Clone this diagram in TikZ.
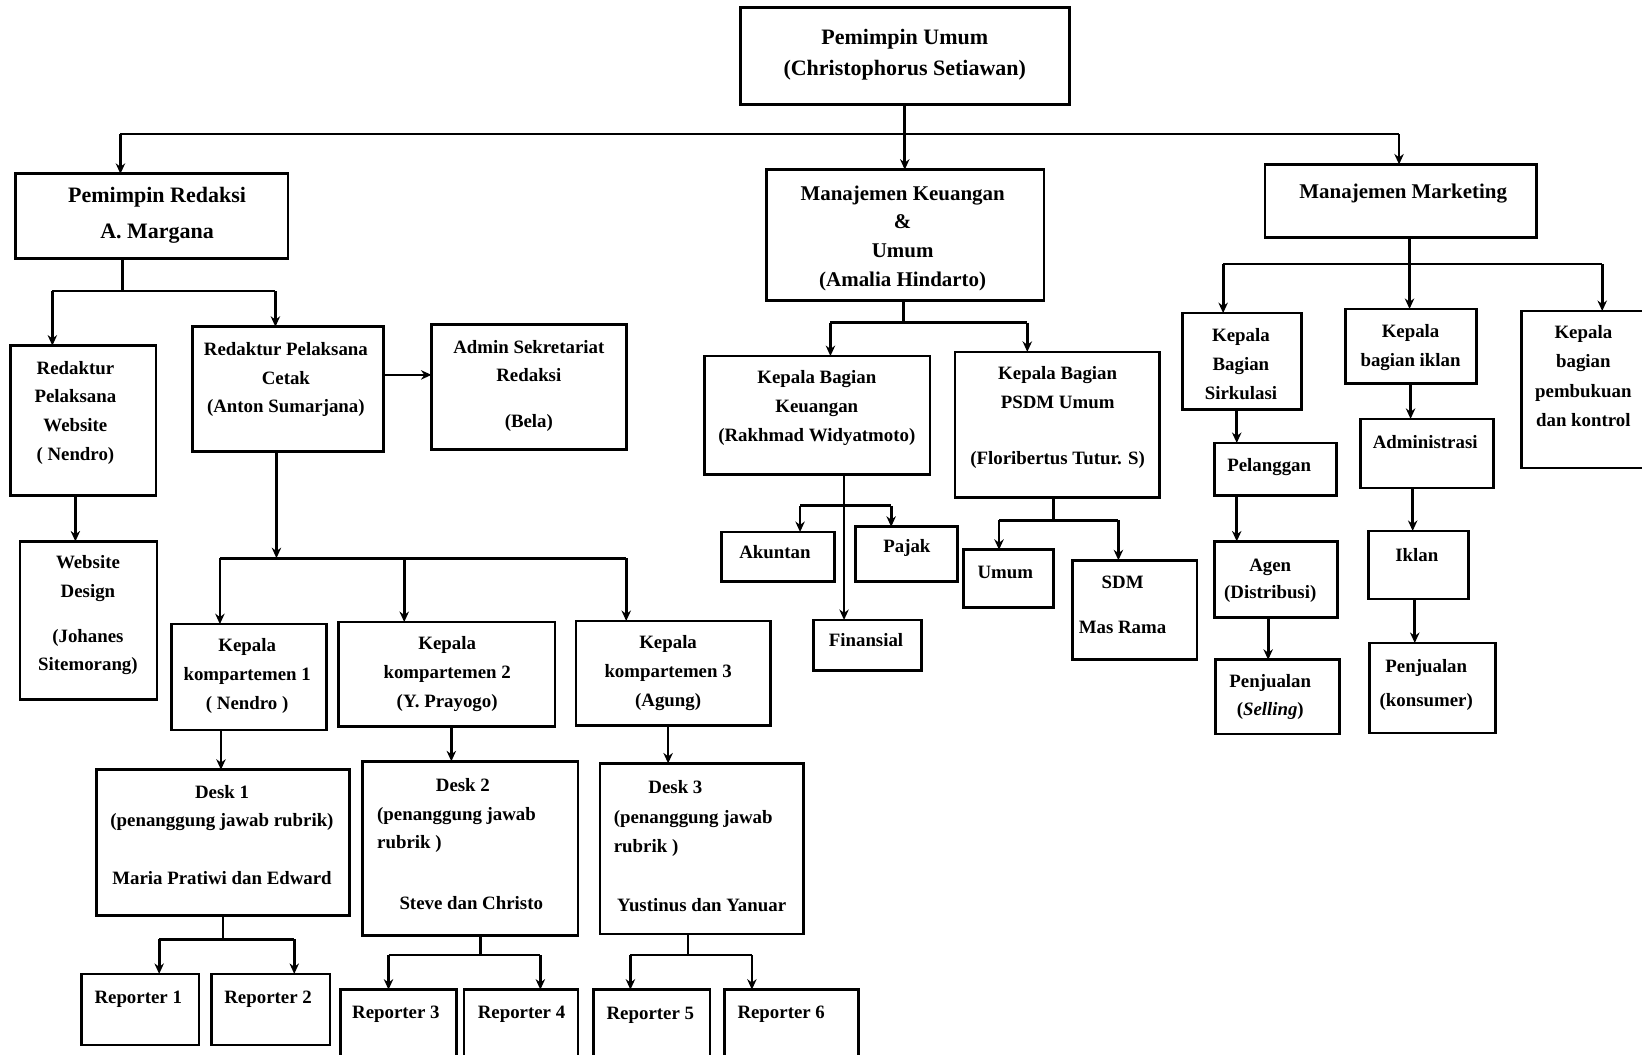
\documentclass[tikz,border=0pt]{standalone}
\usepackage{fontspec}
\setmainfont{Liberation Serif}
\usetikzlibrary{arrows.meta}
\newcommand\fA{\fontsize{18}{27.5}\selectfont\bfseries}
\newcommand\fAw{\fontsize{18}{28}\selectfont\bfseries}
\newcommand\fB{\fontsize{21}{30}\selectfont\bfseries}
\newcommand\fBw{\fontsize{21}{34}\selectfont\bfseries}
\newcommand\fC{\fontsize{20}{27.5}\selectfont\bfseries}
\newcommand\mybox[5]{\node[box, minimum width={#4-#2}, minimum height={#5-#3}] (#1) at ({(#2+#4)/2},{(#3+#5)/2}) {};}
\newcommand\txtat[5]{\node[txt, font=#4, anchor=north] (#1) at (#2,#3) {#5};}
\newcommand\txtleft[5]{\node[txt, font=#4, anchor=north west, align=left] (#1) at (#2,#3) {#5};}
\begin{document}
\begin{tikzpicture}[x=1pt,y=-1pt,
  box/.style={draw=black, line width=2.6pt, inner sep=0pt, outer sep=0pt, fill=white},
  txt/.style={align=center, inner sep=0pt, text=black},
  conn/.style={line width=2.6pt, draw=black},
  arr/.style={conn, -{Stealth[length=10pt,width=9pt]}}]
\useasboundingbox (0,0) rectangle (1568,1007);
\clip (0,0) rectangle (1568,1007);
\fill[white] (0,0) rectangle (1568,1007);

% ---------- boxes ----------
\mybox{pu}{707}{7}{1021}{100}
\mybox{pr}{15}{166}{275}{247}
\mybox{rw}{10}{330}{149}{473}
\mybox{wd}{19}{517}{150}{668}
\mybox{rc}{184}{312}{366}{431}
\mybox{ad}{412}{310}{598}{429}
\mybox{ka}{164}{596}{312}{697}
\mybox{kb}{323}{594}{530}{694}
\mybox{kc}{550}{593}{736}{693}
\mybox{da}{92}{735}{334}{874}
\mybox{db}{346}{727}{552}{893}
\mybox{dc}{573}{729}{767}{892}
\mybox{ra}{78}{930}{190}{998}
\mybox{rb}{202}{930}{315}{998}
\mybox{rcc}{325}{945}{436}{1020}
\mybox{rd}{443}{945}{552}{1020}
\mybox{re}{567}{945}{678}{1020}
\mybox{rf}{692}{945}{820}{1020}
\mybox{mk}{732}{162}{997}{287}
\mybox{kk}{673}{340}{888}{453}
\mybox{ak}{689}{508}{797}{555}
\mybox{pj}{817}{503}{914}{555}
\mybox{fi}{777}{592}{880}{640}
\mybox{ps}{912}{336}{1107}{475}
\mybox{um}{920}{525}{1006}{580}
\mybox{sd}{1024}{535}{1143}{630}
\mybox{mm}{1208}{157}{1467}{227}
\mybox{sk}{1129}{299}{1243}{391}
\mybox{pl}{1160}{423}{1276}{473}
\mybox{ag}{1160}{517}{1277}{590}
\mybox{pn}{1161}{630}{1279}{701}
\mybox{ki}{1285}{295}{1410}{366}
\mybox{adm}{1299}{400}{1426}{466}
\mybox{ik}{1307}{507}{1402}{572}
\mybox{pk}{1308}{614}{1428}{700}
\mybox{pb}{1453}{297}{1580}{447}

% ---------- texts ----------
\txtat{pu-t}{864}{27.5}{\fB}{Pemimpin Umum\\(Christophorus Setiawan)}
\txtat{pr-t}{150}{178.5}{\fBw}{Pemimpin Redaksi\\A. Margana}
\txtat{rw-t}{72}{344.5}{\fA}{Redaktur\\Pelaksana\\Website\\( Nendro)}
\txtat{wd-t}{84}{530.5}{\fA}{Website\\Design\\[15pt](Johanes\\Sitemorang)}
\txtat{rc-t}{273}{326.5}{\fA}{Redaktur Pelaksana\\Cetak\\(Anton Sumarjana)}
\txtat{ad-t}{505}{324.5}{\fA}{Admin Sekretariat\\Redaksi\\[16pt](Bela)}
\txtat{ka-t}{236}{609.5}{\fA}{Kepala\\kompartemen 1\\( Nendro )}
\txtat{kb-t}{427}{607.5}{\fA}{Kepala\\kompartemen 2\\(Y. Prayogo)}
\txtat{kc-t}{638}{606.5}{\fA}{Kepala\\kompartemen 3\\(Agung)}
\txtat{da-t}{212}{749.5}{\fA}{Desk 1\\(penanggung jawab rubrik)\\[27pt]Maria Pratiwi dan Edward}
\txtat{db-t}{442}{743.5}{\fA}{Desk 2}
\txtleft{db-u}{360}{770.5}{\fA}{(penanggung jawab\\rubrik )}
\txtat{db-v}{450}{855.5}{\fA}{Steve dan Christo}
\txtat{dc-t}{645}{745.5}{\fA}{Desk 3}
\txtleft{dc-u}{586}{773.5}{\fA}{(penanggung jawab\\rubrik )}
\txtat{dc-v}{670}{857.5}{\fA}{Yustinus dan Yanuar}
\txtat{ra-t}{132}{946.5}{\fA}{Reporter 1}
\txtat{rb-t}{256}{946.5}{\fA}{Reporter 2}
\txtat{rcc-t}{378}{960.5}{\fA}{Reporter 3}
\txtat{rd-t}{498}{960.5}{\fA}{Reporter 4}
\txtat{re-t}{621}{961.5}{\fA}{Reporter 5}
\txtat{rf-t}{746}{960.5}{\fA}{Reporter 6}
\txtat{mk-t}{862}{177}{\fC}{Manajemen Keuangan\\\&\\Umum\\(Amalia Hindarto)}
\txtat{kk-t}{780}{353.5}{\fA}{Kepala Bagian\\Keuangan\\(Rakhmad Widyatmoto)}
\txtat{ak-t}{740}{520.5}{\fA}{Akuntan}
\txtat{pj-t}{866}{514.5}{\fA}{Pajak}
\txtat{fi-t}{827}{604.5}{\fA}{Finansial}
\txtat{ps-t}{1010}{349.5}{\fA}{Kepala Bagian\\PSDM Umum\\[26.5pt](Floribertus Tutur. S)}
\txtat{um-t}{960}{540.5}{\fA}{Umum}
\txtat{sd-t}{1072}{549.5}{\fA}{SDM\\[15.5pt]Mas Rama}
\txtat{mm-t}{1340}{175}{\fC}{Manajemen Marketing}
\txtat{sk-t}{1185}{313.5}{\fA}{Kepala\\Bagian\\Sirkulasi}
\txtat{pl-t}{1212}{437.5}{\fA}{Pelanggan}
\txtat{ag-t}{1213}{533.5}{\fA}{Agen\\[-1.5pt](Distribusi)}
\txtat{pn-t}{1213}{643.5}{\fA}{Penjualan\\(\textit{Selling})}
\txtat{ki-t}{1347}{309.5}{\fA}{Kepala\\bagian iklan}
\txtat{adm-t}{1361}{415.5}{\fA}{Administrasi}
\txtat{ik-t}{1353}{523.5}{\fA}{Iklan}
\txtat{pk-t}{1362}{629.5}{\fA}{Penjualan\\[4.5pt](konsumer)}
\txtat{pb-t}{1512}{310.5}{\fAw}{Kepala\\bagian\\pembukuan\\dan kontrol}

% ---------- connectors ----------
% top level
\draw[arr] (pu.south) -- (pu.south |- mk.north);
\coordinate (j0l) at (115,128);
\coordinate (j0r) at (1336,128);
\draw[conn] (j0l) -- (j0r);
\draw[arr] (j0l) -- (j0l |- pr.north);
\draw[arr] (j0r) -- (j0r |- mm.north);

% pemimpin redaksi
\coordinate (j1) at (117,278);
\coordinate (j1l) at (50,278);
\coordinate (j1r) at (263,278);
\draw[conn] (j1 |- pr.south) -- (j1);
\draw[conn] (j1l) -- (j1r);
\draw[arr] (j1l) -- (j1l |- rw.north);
\draw[arr] (j1r) -- (j1r |- rc.north);
\coordinate (j2) at (72,500);
\draw[arr] (j2 |- rw.south) -- (j2 |- wd.north);
\coordinate (j3) at (366,358);
\draw[arr] (j3 -| rc.east) -- (j3 -| ad.west);

% redaktur cetak -> kompartemen
\coordinate (j4) at (264,533);
\coordinate (j4l) at (210,533);
\coordinate (j4m) at (386,533);
\coordinate (j4r) at (598,533);
\draw[arr] (j4 |- rc.south) -- (j4);
\draw[conn] (j4l) -- (j4r);
\draw[arr] (j4l) -- (j4l |- ka.north);
\draw[arr] (j4m) -- (j4m |- kb.north);
\draw[arr] (j4r) -- (j4r |- kc.north);

% kompartemen -> desk
\coordinate (j5a) at (211,710);
\coordinate (j5b) at (431,710);
\coordinate (j5c) at (638,710);
\draw[arr] (j5a |- ka.south) -- (j5a |- da.north);
\draw[arr] (j5b |- kb.south) -- (j5b |- db.north);
\draw[arr] (j5c |- kc.south) -- (j5c |- dc.north);

% desk -> reporters
\coordinate (j6a) at (213,897);
\coordinate (j6al) at (152,897);
\coordinate (j6ar) at (281,897);
\draw[conn] (j6a |- da.south) -- (j6a);
\draw[conn] (j6al) -- (j6ar);
\draw[arr] (j6al) -- (j6al |- ra.north);
\draw[arr] (j6ar) -- (j6ar |- rb.north);
\coordinate (j6b) at (459,912);
\coordinate (j6bl) at (371,912);
\coordinate (j6br) at (516,912);
\draw[conn] (j6b |- db.south) -- (j6b);
\draw[conn] (j6bl) -- (j6br);
\draw[arr] (j6bl) -- (j6bl |- rcc.north);
\draw[arr] (j6br) -- (j6br |- rd.north);
\coordinate (j6c) at (657,912);
\coordinate (j6cl) at (602,912);
\coordinate (j6cr) at (718,912);
\draw[conn] (j6c |- dc.south) -- (j6c);
\draw[conn] (j6cl) -- (j6cr);
\draw[arr] (j6cl) -- (j6cl |- re.north);
\draw[arr] (j6cr) -- (j6cr |- rf.north);

% keuangan
\coordinate (j7) at (863,308);
\coordinate (j7l) at (793,308);
\coordinate (j7r) at (981,308);
\draw[conn] (j7 |- mk.south) -- (j7);
\draw[conn] (j7l) -- (j7r);
\draw[arr] (j7l) -- (j7l |- kk.north);
\draw[arr] (j7r) -- (j7r |- ps.north);
\coordinate (j8) at (806,483);
\coordinate (j8l) at (764,483);
\coordinate (j8r) at (851,483);
\draw[arr] (j8 |- kk.south) -- (j8 |- fi.north);
\draw[conn] (j8l) -- (j8r);
\draw[arr] (j8l) -- (j8l |- ak.north);
\draw[arr] (j8r) -- (j8r |- pj.north);
\coordinate (j9) at (1006,497);
\coordinate (j9l) at (954,497);
\coordinate (j9r) at (1068,497);
\draw[conn] (j9 |- ps.south) -- (j9);
\draw[conn] (j9l) -- (j9r);
\draw[arr] (j9l) -- (j9l |- um.north);
\draw[arr] (j9r) -- (j9r |- sd.north);

% marketing
\coordinate (j10) at (1346,252);
\coordinate (j10l) at (1168,252);
\coordinate (j10r) at (1530,252);
\draw[conn] (j10 |- mm.south) -- (j10);
\draw[conn] (j10l) -- (j10r);
\draw[arr] (j10l) -- (j10l |- sk.north);
\draw[arr] (j10) -- (j10 |- ki.north);
\draw[arr] (j10r) -- (j10r |- pb.north);
\coordinate (j11) at (1181,400);
\draw[arr] (j11 |- sk.south) -- (j11 |- pl.north);
\draw[arr] (j11 |- pl.south) -- (j11 |- ag.north);
\coordinate (j12) at (1211,600);
\draw[arr] (j12 |- ag.south) -- (j12 |- pn.north);
\coordinate (j13a) at (1347,380);
\coordinate (j13b) at (1349,480);
\coordinate (j13c) at (1351,590);
\draw[arr] (j13a |- ki.south) -- (j13a |- adm.north);
\draw[arr] (j13b |- adm.south) -- (j13b |- ik.north);
\draw[arr] (j13c |- ik.south) -- (j13c |- pk.north);
\end{tikzpicture}
\end{document}
